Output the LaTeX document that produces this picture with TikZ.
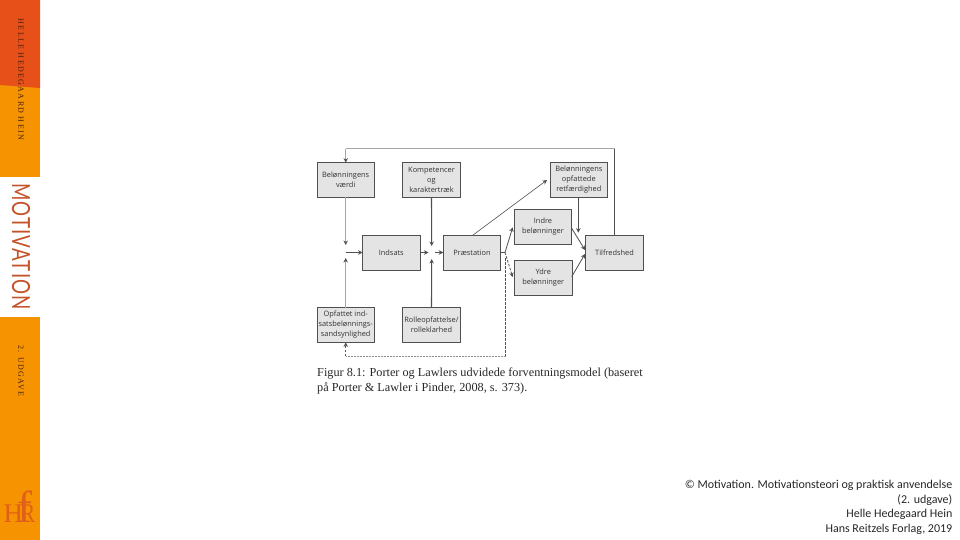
\documentclass[tikz,border=0pt]{standalone}
\usepackage{xcolor}
\usepackage{fontspec}
\usetikzlibrary{arrows.meta, positioning}
\setmainfont{Carlito}
\newfontfamily\capfont{Liberation Serif}
\newfontfamily\boxfont{Open Sans}
\newfontfamily\motivfont[LetterSpace=6]{Lato}
\definecolor{barOrange}{HTML}{F59400}
\definecolor{barRed}{HTML}{E8501A}
\definecolor{motivRed}{HTML}{C4522A}
\definecolor{barText}{HTML}{4A200C}
\definecolor{logoRed}{HTML}{E0601A}
\definecolor{boxFill}{HTML}{E4E4E4}
\definecolor{boxLine}{HTML}{505050}
\definecolor{boxText}{HTML}{333333}

\begin{document}
\begin{tikzpicture}[x=1pt, y=-1pt,
    box/.style={draw=boxLine, fill=boxFill, line width=0.9pt, text=boxText, minimum width=57.5pt, minimum height=34.8pt, inner sep=0pt, outer sep=0pt, align=center, font=\boxfont\fontsize{7.4}{10}\selectfont},
    arr/.style={-{Stealth[length=4.5pt, width=4.5pt]}, line width=0.8pt, draw=boxLine},
    lightarr/.style={arr, draw=black!35, -{Stealth[length=4.5pt, width=4.5pt, color=boxLine]}},
    dasharr/.style={arr, dashed, dash pattern=on 2.5pt off 1.5pt},
    sidetext/.style={rotate=-90, text=barText, font=\capfont\fontsize{8}{9}\selectfont},
    logotext/.style={inner sep=0pt, text=logoRed, font=\capfont\fontsize{27}{27}\selectfont},
]
\useasboundingbox (0,0) rectangle (960,540);

% side bar
\fill[barOrange] (0,0) rectangle (40,177);
\fill[barRed] (0,0) -- (40,0) -- (40,88) -- (0,85) -- cycle;
\fill[barOrange] (0,317) rectangle (40,540);

\node[sidetext] (author) at (21,79.5) {\addfontfeature{LetterSpace=17}HELLE HEDEGAARD HEIN};
\node[rotate=-90, text=motivRed, font=\motivfont\fontsize{25}{25}\selectfont] (title) at (21,246.5) {\scalebox{0.75}[1]{MOTIVATION}};
\node[sidetext] (edition) at (21,371) {\addfontfeature{LetterSpace=17}2. UDGAVE};

\node[logotext, anchor=base west] (logoH) at (3.5,522) {H};
\node[logotext, anchor=base west] (logoR) at (21,522) {\scalebox{0.78}[1]{R}};
\node[logotext, anchor=base west, font=\capfont\fontsize{45}{45}\selectfont] (logoF) at (17,522) {f};

% boxes
\node[box] (vaerdi) at (345.7, 180) {Belønningens\\værdi};
\node[box] (komp) at (431.5, 180) {Kompetencer\\og\\karaktertræk};
\node[box] (retf) at (578.8, 180) {Belønningens\\opfattede\\retfærdighed};
\node[box] (indsats) at (391.3, 253.2) {Indsats};
\node[box] (praest) at (472, 253.2) {Præstation};
\node[box] (indre) at (543, 226.7) {Indre\\belønninger};
\node[box] (ydre) at (543.3, 278) {Ydre\\belønninger};
\node[box] (tilf) at (614.5, 253.2) {Tilfredshed};
\node[box] (opf) at (345.7, 325) {Opfattet ind-\\satsbelønnings-\\sandsynlighed};
\node[box] (rolle) at (431.5, 325) {Rolleopfattelse/\\rolleklarhed};

% free ends
\coordinate (topR) at (614.5, 148.7);
\coordinate (topL) at (345.7, 148.7);
\coordinate (vaerdiEnd) at (345.7, 245);
\coordinate (opfEnd) at (345.7, 258);
\coordinate (joinL) at (345.7, 252.5);
\coordinate (joinM) at (435, 252.5);
\coordinate (midEnd) at (428.5, 252.5);
\coordinate (kompEnd) at (431.7, 246);
\coordinate (rolleEnd) at (431.7, 259);
\coordinate (retfStart) at (472, 235.8);
\coordinate (retfEnd) at (547, 180);
\coordinate (branch) at (505, 252.5);
\coordinate (indreEnd) at (512.7, 227.3);
\coordinate (ydreEnd) at (512.7, 277);
\coordinate (dashTop) at (505.7, 258);
\coordinate (dashR) at (505.7, 356);
\coordinate (dashL) at (345.7, 356);
\coordinate (retfDown) at (578.3, 232.7);
\coordinate (retfUp) at (578.3, 197.4);
\coordinate (indreOut) at (571.7, 228.3);
\coordinate (ydreOut) at (571.7, 276.7);
\coordinate (tilfUp) at (585, 250);
\coordinate (tilfLow) at (585, 254);

% connectors
\draw[line width=0.8pt, draw=boxLine] (tilf.north) -- (topR);
\draw[line width=0.7pt, draw=black!35] (topR) -- (topL);
\draw[lightarr] (topL) -- (vaerdi.north);
\draw[lightarr] (vaerdi.south) -- (vaerdiEnd);
\draw[lightarr] (opf.north) -- (opfEnd);
\draw[arr] (joinL) -- (indsats.west |- joinL);
\draw[arr] (indsats.east |- midEnd) -- (midEnd);
\draw[arr] (joinM) -- (praest.west |- joinM);
\draw[arr, line width=1.1pt] (komp.south) -- (kompEnd);
\draw[arr, line width=1.1pt] (rolle.north) -- (rolleEnd);
\draw[arr, line width=0.6pt] (retfStart) -- (retfEnd);
\draw[line width=0.8pt, draw=boxLine] (praest.east |- branch) -- (branch);
\draw[arr] (branch) -- (indreEnd);
\draw[dasharr] (branch) -- (ydreEnd);
\draw[dasharr, -] (dashTop) -- (dashR);
\draw[line width=0.5pt, draw=black!45, dash pattern=on 1.5pt off 1.5pt] (dashR) -- (dashL);
\draw[dasharr] (dashL) -- (opf.south);
\draw[arr] (retfUp) -- (retfDown);
\draw[arr] (indreOut) -- (tilfUp);
\draw[arr] (ydreOut) -- (tilfLow);

% caption and source
\node[anchor=north west, inner sep=0pt, align=left, text=black!85, font=\capfont\fontsize{12.25}{15}\selectfont] (caption) at (317, 367.5) {Figur 8.1: Porter og Lawlers udvidede forventningsmodel (baseret\\på Porter \& Lawler i Pinder, 2008, s. 373).};
\node[anchor=north east, inner sep=0pt, align=right, text=black!85, font=\fontsize{12}{14.6}\selectfont] (source) at (952.5, 480) {© Motivation. Motivationsteori og praktisk anvendelse\\(2. udgave)\\Helle Hedegaard Hein\\Hans Reitzels Forlag, 2019};
\end{tikzpicture}
\end{document}
